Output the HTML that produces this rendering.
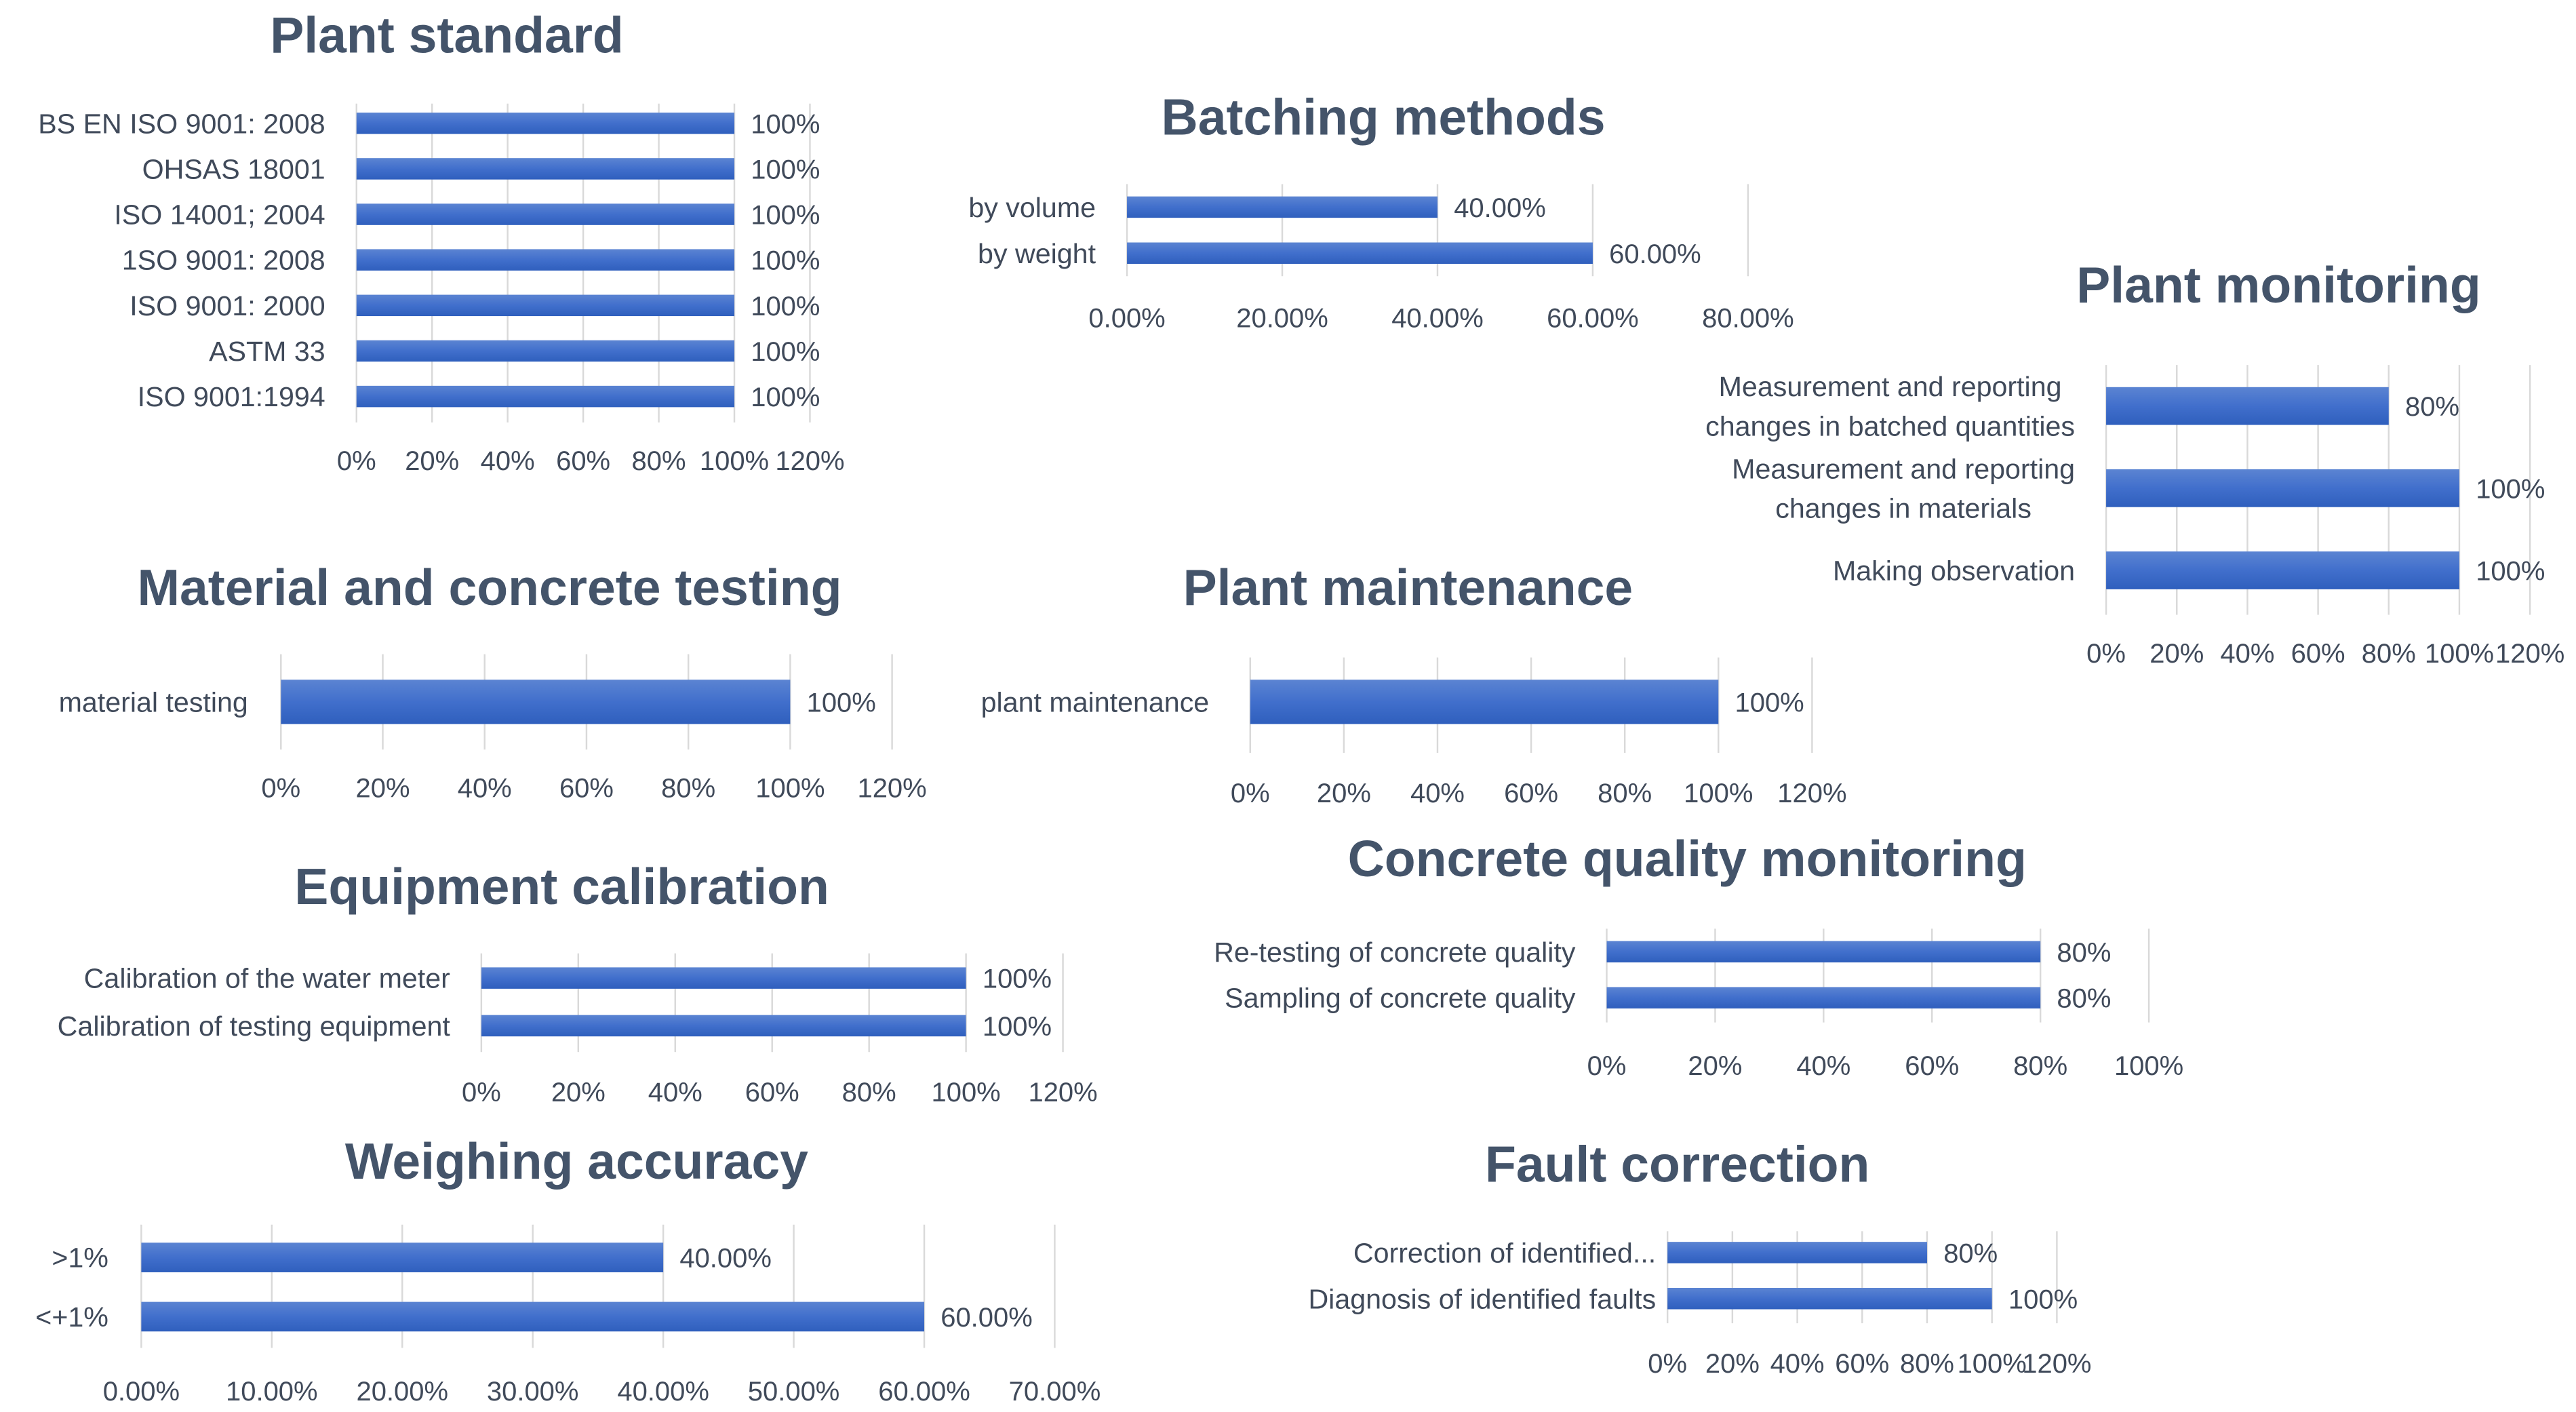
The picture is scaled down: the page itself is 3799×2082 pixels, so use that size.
<!DOCTYPE html>
<html><head><meta charset="utf-8">
<style>
html,body{margin:0;padding:0;background:#fff;}
svg{display:block;}
text{font-family:"Liberation Sans",sans-serif;}
</style></head>
<body>
<svg id="root" width="3799" height="2082" viewBox="0 0 1568 859" preserveAspectRatio="none" xmlns="http://www.w3.org/2000/svg">
<defs>
<linearGradient id="bg" x1="0" y1="0" x2="0" y2="1">
<stop offset="0" stop-color="#5b84d2"/><stop offset="0.5" stop-color="#416fcc"/><stop offset="1" stop-color="#2f5fbd"/>
</linearGradient>
</defs>
</svg>
<script>
// ---- data arrays ----
const psCats = ["BS EN ISO 9001: 2008","OHSAS 18001","ISO 14001; 2004","1SO 9001: 2008","ISO 9001: 2000","ASTM 33","ISO 9001:1994"];
const psVals = [100,100,100,100,100,100,100];
const psTicks = ["0%","20%","40%","60%","80%","100%","120%"];

const bmCats = ["by volume","by weight"];
const bmVals = [40,60];
const bmTicks = ["0.00%","20.00%","40.00%","60.00%","80.00%"];

const pmCats = [["Measurement and reporting","changes in batched quantities"],["Measurement and reporting","changes in materials"],["Making observation"]];
const pmVals = [80,100,100];
const pmTicks = ["0%","20%","40%","60%","80%","100%","120%"];

const mtCats = ["material testing"];
const mtVals = [100];
const mtTicks = ["0%","20%","40%","60%","80%","100%","120%"];

const maCats = ["plant maintenance"];
const maVals = [100];
const maTicks = ["0%","20%","40%","60%","80%","100%","120%"];

const ecCats = ["Calibration of the water meter","Calibration of testing equipment"];
const ecVals = [100,100];
const ecTicks = ["0%","20%","40%","60%","80%","100%","120%"];

const cqCats = ["Re-testing of concrete quality","Sampling of concrete quality"];
const cqVals = [80,80];
const cqTicks = ["0%","20%","40%","60%","80%","100%"];

const waCats = [">1%","<+1%"];
const waVals = [40,60];
const waTicks = ["0.00%","10.00%","20.00%","30.00%","40.00%","50.00%","60.00%","70.00%"];

const fcCats = ["Correction of identified...","Diagnosis of identified faults"];
const fcVals = [80,100];
const fcTicks = ["0%","20%","40%","60%","80%","100%","120%"];

// ---- layout (pixel geometry, not data) ----
const charts = [
 {id:"plant-standard",title:"Plant standard",tx:272,ty:32,x0:217,x1:493,tickStep:20,cats:psCats,vals:psVals,ticks:psTicks,y0:75,dy:27.7,bh:13,lx:198,tkY:286,gT:63,gB:257,fmt:v=>v+"%"},
 {id:"batching-methods",title:"Batching methods",tx:842,ty:82,x0:686,x1:1064,tickStep:20,cats:bmCats,vals:bmVals,ticks:bmTicks,y0:126,dy:28,bh:13,lx:667,tkY:199,gT:112,gB:168,fmt:v=>v.toFixed(2)+"%"},
 {id:"plant-monitoring",title:"Plant monitoring",tx:1387,ty:184,x0:1282,x1:1540,tickStep:20,cats:pmCats,vals:pmVals,ticks:pmTicks,y0:247,dy:50,bh:23,lx:1263,tkY:403,gT:222,gB:374,fmt:v=>v+"%"},
 {id:"material-testing",title:"Material and concrete testing",tx:298,ty:368,x0:171,x1:543,tickStep:20,cats:mtCats,vals:mtVals,ticks:mtTicks,y0:427,dy:0,bh:27,lx:151,tkY:485,gT:398,gB:456,fmt:v=>v+"%"},
 {id:"plant-maintenance",title:"Plant maintenance",tx:857,ty:368,x0:761,x1:1103,tickStep:20,cats:maCats,vals:maVals,ticks:maTicks,y0:427,dy:0,bh:27,lx:736,tkY:488,gT:400,gB:458,fmt:v=>v+"%"},
 {id:"equipment-calibration",title:"Equipment calibration",tx:342,ty:550,x0:293,x1:647,tickStep:20,cats:ecCats,vals:ecVals,ticks:ecTicks,y0:595,dy:29,bh:13,lx:274,tkY:670,gT:580,gB:640,fmt:v=>v+"%"},
 {id:"concrete-quality-monitoring",title:"Concrete quality monitoring",tx:1027,ty:533,x0:978,x1:1308,tickStep:20,cats:cqCats,vals:cqVals,ticks:cqTicks,y0:579,dy:28,bh:13,lx:959,tkY:654,gT:565,gB:622,fmt:v=>v+"%"},
 {id:"weighing-accuracy",title:"Weighing accuracy",tx:351,ty:717,x0:86,x1:642,tickStep:10,cats:waCats,vals:waVals,ticks:waTicks,y0:765,dy:36,bh:18,lx:66,tkY:852,gT:745,gB:820,fmt:v=>v.toFixed(2)+"%"},
 {id:"fault-correction",title:"Fault correction",tx:1021,ty:719,x0:1015,x1:1252,tickStep:20,cats:fcCats,vals:fcVals,ticks:fcTicks,y0:762,dy:28,bh:13,lx:1008,tkY:835,gT:749,gB:805,fmt:v=>v+"%"}
];

const NS="http://www.w3.org/2000/svg";
const root=document.getElementById("root");
function mk(tag,attrs,parent){const e=document.createElementNS(NS,tag);for(const k in attrs)e.setAttribute(k,attrs[k]);parent.appendChild(e);return e;}

charts.forEach(c=>{
  const g=mk("g",{},root);
  
  
  const nT=c.ticks.length;
  const maxV=(nT-1)*c.tickStep;
  const xs=v=>c.x0+(c.x1-c.x0)*v/maxV;
  const t=mk("text",{x:c.tx,y:c.ty,"text-anchor":"middle","font-size":31,"font-weight":"bold",fill:"#44546a"},g);
  t.textContent=c.title;
  
  
  c.ticks.forEach((lab,i)=>{
    const x=xs(i*c.tickStep);
    const gl=mk("line",{x1:x,x2:x,y1:c.gT,y2:c.gB,stroke:"#d9d9d9","stroke-width":1},g);
    
    
    const tl=mk("text",{x:x,y:c.tkY,"text-anchor":"middle","font-size":16.5,fill:"#404a5a"},g);
    tl.textContent=lab;
    
    
  });
  c.cats.forEach((cat,i)=>{
    const yc=c.y0+i*c.dy;
    const v=c.vals[i];
    const r=mk("rect",{x:c.x0,y:yc-c.bh/2,width:xs(v)-c.x0,height:c.bh,fill:"url(#bg)"},g);
    
    
    const vl=mk("text",{x:xs(v)+10,y:yc+6,"font-size":16.5,fill:"#404a5a"},g);
    vl.textContent=c.fmt(v);
    
    
    const lines=Array.isArray(cat)?cat:[cat];
    const lt=mk("text",{"font-size":17,fill:"#404a5a"},g);
    
    
    if(lines.length===1){
      lt.setAttribute("x",c.lx);lt.setAttribute("y",yc+6);lt.setAttribute("text-anchor","end");
      lt.textContent=lines[0];
    } else {
      const tsp=lines.map((ln,j)=>{const s=mk("tspan",{x:0,y:yc+6+(j-(lines.length-1)/2)*24,"text-anchor":"middle"},lt);s.textContent=ln;return s;});
      let w=0;tsp.forEach(s=>{w=Math.max(w,s.getComputedTextLength());});
      tsp.forEach(s=>s.setAttribute("x",c.lx-w/2));
    }
  });
});
</script>
</body></html>
